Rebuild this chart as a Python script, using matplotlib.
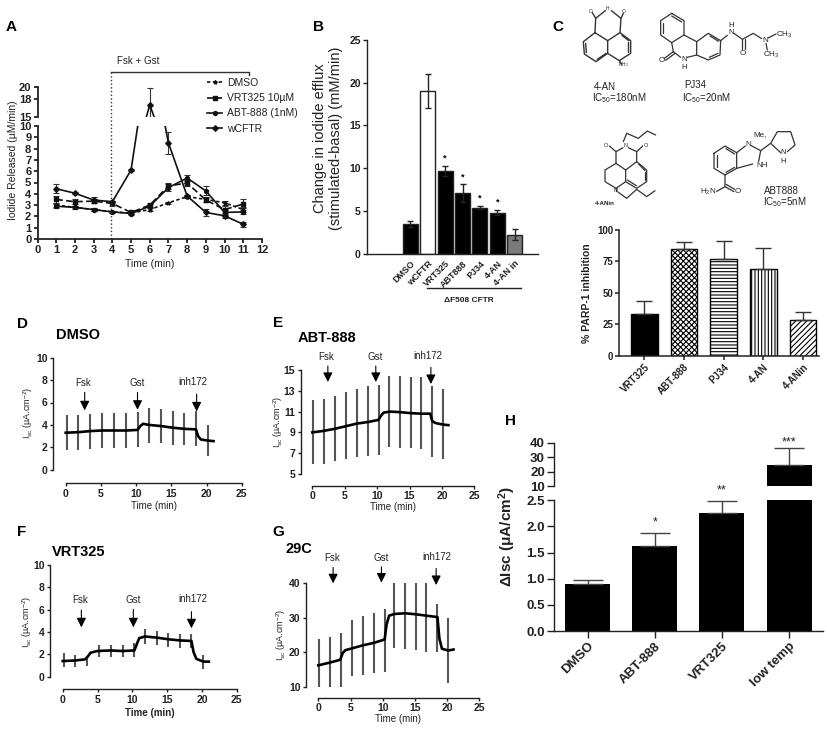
import matplotlib
matplotlib.use('Agg')
import matplotlib.pyplot as plt
from matplotlib.lines import Line2D
import numpy as np

plt.rcParams['font.family'] = ['Liberation Sans', 'DejaVu Sans']
plt.rcParams['mathtext.default'] = 'regular'
plt.rcParams['hatch.linewidth'] = 0.8

W, H = 827, 729

# panel A
minutes = [1, 2, 3, 4, 5, 6, 7, 8, 9, 10, 11]
dmso_a = [3.0, 2.8, 2.6, 2.4, 2.3, 2.6, 3.2, 3.75, 3.5, 3.2, 2.6]
vrt_a = [3.5, 3.3, 3.35, 3.15, 2.35, 3.0, 4.7, 4.95, 3.45, 2.6, 3.1]
abt_a = [2.9, 2.8, 2.6, 2.4, 2.25, 2.9, 4.55, 5.4, 4.25, 2.35, 2.4]
wt_a = [4.45, 4.05, 3.45, 3.3, 6.1, 17.0, 8.5, 3.8, 2.35, 2.05, 1.3]
dmso_a_err = [0.15, 0.1, 0.1, 0.1, 0.1, 0.1, 0.1, 0.1, 0.2, 0.15, 0.2]
vrt_a_err = [0.3, 0.2, 0.2, 0.2, 0.1, 0.15, 0.25, 0.3, 0.2, 0.3, 0.4]
abt_a_err = [0.2, 0.15, 0.1, 0.1, 0.1, 0.2, 0.3, 0.3, 0.4, 0.2, 0.2]
wt_a_err = [0.4, 0.1, 0.3, 0.1, 0.1, 2.8, 1.0, 0.1, 0.3, 0.2, 0.2]

# panel B
efflux_names = ['DMSO', 'wCFTR', 'VRT325', 'ABT888', 'PJ34', '4-AN', '4-AN in']
efflux = [3.5, 19.0, 9.7, 7.1, 5.4, 4.8, 2.2]
efflux_err = [0.35, 2.0, 0.6, 1.0, 0.2, 0.3, 0.65]
efflux_colors = ['black', 'white', 'black', 'black', 'black', 'black', '#7a7a7a']

# panel C
parp_names = ['VRT325', 'ABT-888', 'PJ34', '4-AN', '4-ANin']
parp = [33, 84.5, 77, 69, 28.5]
parp_err = [10.5, 6, 14.5, 16.5, 6.5]
parp_hatch = ['', 'xxxxxx', '-----', '|||||', '//////']
parp_face = ['black', 'white', 'white', 'white', 'white']

# panels D-G, error bars share these times
err_t = [0.15, 1.8, 3.5, 5.2, 6.9, 8.6, 10.3, 11.8, 13.5, 15.2, 16.8, 18.5, 20.2]

d_t = [0, 1.8, 3.5, 5.2, 6.9, 8.6, 10.2, 10.6, 11, 11.8, 13.5, 15.2, 16.8, 18.5, 18.8, 19.2, 20.2, 21]
d_y = [3.3, 3.35, 3.45, 3.5, 3.5, 3.5, 3.55, 3.9, 4.1, 4.0, 3.9, 3.75, 3.65, 3.6, 3.0, 2.7, 2.6, 2.55]
d_hi = [4.9, 4.85, 5.0, 5.05, 5.05, 5.05, 5.15, 5.55, 5.4, 5.2, 5.1, 5.2, 3.95]
d_lo = [1.8, 1.75, 1.85, 1.95, 1.95, 1.95, 2.0, 2.4, 2.4, 2.25, 2.2, 2.15, 1.25]

e_t = [0, 1.8, 3.5, 5.2, 6.9, 8.6, 10.2, 10.6, 11, 12, 13.5, 15.2, 16.8, 18.2, 18.5, 19, 20.2, 21]
e_y = [9.0, 9.15, 9.35, 9.6, 9.85, 10.0, 10.2, 10.6, 10.9, 11.0, 10.95, 10.85, 10.8, 10.8, 10.1, 9.9, 9.75, 9.7]
e_hi = [12.1, 12.2, 12.5, 12.85, 13.15, 13.45, 13.6, 14.4, 14.4, 14.3, 14.3, 13.45, 13.15]
e_lo = [5.93, 5.96, 6.28, 6.44, 6.63, 6.73, 6.86, 7.56, 7.53, 7.47, 7.4, 6.63, 6.44]

f_t = [0, 1.8, 3.2, 3.6, 4, 5, 6.9, 8.6, 10.3, 10.7, 11, 11.8, 13.5, 15.2, 16.8, 18.5, 18.8, 19.2, 20.2, 21]
f_y = [1.4, 1.45, 1.55, 1.8, 2.15, 2.3, 2.35, 2.3, 2.35, 3.0, 3.45, 3.6, 3.5, 3.35, 3.25, 3.2, 2.2, 1.6, 1.35, 1.35]
f_hi = [2.1, 1.95, 1.85, 2.85, 2.85, 2.85, 3.0, 4.25, 4.1, 3.95, 3.8, 3.85, 1.95]
f_lo = [0.9, 0.9, 0.95, 1.75, 1.75, 1.75, 1.8, 2.9, 2.85, 2.7, 2.55, 2.55, 0.65]

g_t = [0, 1.8, 3.4, 3.8, 4.2, 5.2, 6.9, 8.6, 10.3, 10.6, 11, 11.8, 13.5, 15.2, 16.8, 18.5, 18.8, 19.2, 20.2, 21]
g_y = [16.2, 17, 17.8, 19.8, 20.6, 21.1, 22, 22.7, 23.7, 28, 30.6, 31.1, 31.3, 31, 30.6, 30.2, 24, 21, 20.5, 20.8]
g_hi = [23.8, 24.5, 25.7, 29.4, 30.5, 31.5, 32.6, 40, 40, 40, 40, 34, 29.8]
g_lo = [10, 10, 10, 13.1, 13.4, 13.9, 14.3, 21.1, 20.9, 20.6, 20.2, 20, 11.2]

# panel H
isc_names = ['DMSO', 'ABT-888', 'VRT325', 'low temp']
isc = [0.89, 1.63, 2.25, 25]
isc_err = [0.09, 0.25, 0.24, 11.5]
isc_stars = ['', '*', '**', '***']


def add_ax(x0, ytop, x1, ybot):
    a = fig.add_axes([x0 / W, 1 - ybot / H, (x1 - x0) / W, (ybot - ytop) / H])
    a.patch.set_alpha(0)
    for s in ['top', 'right']:
        a.spines[s].set_visible(False)
    return a


def style(a, lw=1.3, size=7, length=3, weight='bold', color='#222222'):
    for s in ['left', 'bottom']:
        a.spines[s].set_linewidth(lw)
        a.spines[s].set_color(color)
    a.tick_params(width=lw, length=length, labelsize=size, pad=1.5, color=color, labelcolor=color)
    for t in a.get_xticklabels() + a.get_yticklabels():
        t.set_fontweight(weight)


fig = plt.figure(figsize=(W / 100, H / 100), dpi=100, facecolor='white')

ov = fig.add_axes([0, 0, 1, 1], zorder=20)
ov.set_xlim(0, W)
ov.set_ylim(H, 0)
ov.axis('off')


def txt(x, y, s, size=7, weight='normal', rot=0, color='#222222', ha='center'):
    ov.text(x, y, s, fontsize=size, fontweight=weight, rotation=rot, color=color, ha=ha, va='center')


for letter, lx, ly in [('A', 11, 27), ('B', 319, 27), ('C', 558, 27), ('D', 23, 324),
                       ('E', 278, 323), ('F', 22, 532), ('G', 278, 532), ('H', 510, 421)]:
    txt(lx, ly, letter, size=11, weight='bold', color='black')

# A: broken y axis
a_low = add_ax(37.5, 126, 262, 239)
a_up = add_ax(37.5, 87, 262, 117)
a_low.set_ylim(0, 10)
a_up.set_ylim(15, 20)
handles = []
series_a = [(dmso_a, dmso_a_err, (0, (2, 1.5)), '*', 'DMSO'),
            (vrt_a, vrt_a_err, (0, (4, 2)), 's', 'VRT325 10\u00b5M'),
            (abt_a, abt_a_err, '-', 'o', 'ABT-888 (1nM)'),
            (wt_a, wt_a_err, '-', 'D', 'wCFTR')]
for vals, errs, ls, mk, lab in series_a:
    for a in (a_low, a_up):
        a.errorbar(minutes, vals, yerr=errs, color='#111111', ls=ls, lw=1.2, marker=mk, ms=2.8,
                   elinewidth=0.8, ecolor='#333333', capsize=2.5, capthick=0.8)
    handles.append(Line2D([], [], color='#111111', ls=ls, lw=1.2, marker=mk, ms=2.8, label=lab))
for a in (a_low, a_up):
    a.set_xlim(0, 12)
a_low.set_xticks(range(13))
a_low.set_yticks(range(11))
a_up.set_yticks([15, 18, 20])
a_up.set_xticks([])
a_up.spines['bottom'].set_visible(False)
style(a_low, size=8)
style(a_up, size=8)
a_low.legend(handles=handles, loc='upper left', bbox_to_anchor=(207 / W, 1 - 78 / H),
             bbox_transform=fig.transFigure, frameon=False, fontsize=7.5, labelspacing=0.5,
             handlelength=1.45, handletextpad=0.5, borderpad=0, borderaxespad=0, labelcolor='#222222')
ov.plot([110.7, 110.7], [72, 239], color='#333333', lw=1, ls=':')
ov.plot([110.7, 249, 249], [72, 72, 75], color='#333333', lw=1)
txt(138, 61, 'Fsk + Gst', size=7)
txt(150, 264, 'Time (min)', size=7.5)
txt(13, 160, 'Iodide Released (\u00b5M/min)', size=7.5, rot=90)

# B
b = add_ax(367, 40, 538, 253.7)
pos_b = np.arange(len(efflux))
b.bar(pos_b, efflux, width=0.86, color=efflux_colors, edgecolor='#222222', lw=1, yerr=efflux_err,
      error_kw=dict(ecolor='#222222', elinewidth=1, capsize=2.5, capthick=1))
b.set_xlim(-2.48, 7.33)
b.set_ylim(0, 25)
b.set_yticks(range(0, 26, 5))
b.set_xticks(pos_b)
b.set_xticklabels(efflux_names, rotation=45, ha='right', rotation_mode='anchor')
style(b, lw=1, size=7.5)
b.tick_params(axis='x', length=0, labelsize=6.5, pad=4)
for i in range(2, 6):
    b.text(pos_b[i], efflux[i] + efflux_err[i] + 0.9, '*', ha='center', va='center', fontsize=6.5, fontweight='bold')
ov.plot([426.7, 521], [288, 288], color='#222222', lw=1)
txt(469, 300, '\u0394F508 CFTR', size=6, weight='bold')
txt(328, 138, 'Change in iodide efflux\n(stimulated-basal) (mM/min)', size=10.5, rot=90)

# C: structures
def chem(polys, lw=0.9, color='#333333'):
    for p in polys:
        xs = [540 + q[0] / 3 for q in p]
        ys = [q[1] / 3 for q in p]
        ov.plot(xs, ys, color=color, lw=lw, solid_capstyle='round')


chem([[(165, 98), (130, 125), (133, 162), (168, 185), (203, 160), (203, 122), (165, 98)],
      [(203, 122), (240, 98), (272, 122), (272, 160), (238, 182), (203, 160)],
      [(165, 98), (167, 55), (196, 32)], [(214, 32), (243, 55), (240, 98)],
      [(167, 55), (157, 38)], [(243, 55), (250, 40)], [(238, 182), (244, 192)],
      [(137, 130), (139, 158)], [(172, 178), (198, 160)], [(246, 106), (266, 122)], [(265, 126), (265, 156)]], lw=1)
chem([[(395, 40), (432, 62), (432, 105), (395, 128), (362, 105), (362, 62), (395, 40)],
      [(395, 128), (400, 155), (422, 172)], [(442, 172), (470, 165), (470, 125), (432, 105)],
      [(470, 125), (505, 100), (542, 122), (540, 165), (505, 180), (470, 165)],
      [(400, 155), (372, 176)], [(405, 160), (377, 181)], [(395, 48), (425, 66)], [(369, 68), (369, 100)],
      [(542, 122), (562, 106)], [(582, 100), (607, 118), (640, 100), (665, 116)],
      [(607, 118), (607, 148)], [(615, 118), (615, 148)], [(684, 114), (708, 102)], [(678, 130), (682, 150)],
      [(510, 108), (536, 124)], [(534, 160), (508, 172)]])
chem([[(250, 425), (260, 400), (295, 415), (322, 393), (347, 405)],
      [(249, 443), (228, 455), (228, 490), (195, 510), (195, 545), (228, 565), (257, 545), (257, 510), (228, 490)],
      [(265, 443), (290, 455), (290, 485), (320, 510), (320, 545), (290, 565), (257, 545)],
      [(257, 510), (290, 485)], [(228, 455), (208, 438)], [(290, 455), (308, 438)],
      [(228, 565), (228, 572)], [(234, 576), (260, 595), (290, 568), (320, 590), (345, 572)],
      [(296, 492), (315, 512)], [(314, 516), (314, 540)], [(289, 557), (262, 540)]])
chem([[(522, 460), (555, 438), (590, 458), (590, 505), (555, 525), (522, 505), (522, 460)],
      [(590, 458), (616, 438)], [(634, 437), (662, 452), (656, 484)], [(590, 505), (638, 492)],
      [(662, 452), (692, 430), (712, 395), (752, 395), (765, 435), (742, 455)], [(692, 430), (722, 458)],
      [(555, 525), (555, 560), (530, 574)], [(555, 560), (582, 575)], [(558, 553), (584, 568)],
      [(530, 466), (530, 500)], [(558, 446), (584, 462)], [(558, 517), (584, 502)]])
for zx, zy, s, fs in [(250, 195, 'NH$_2$', 3.5), (203, 24, 'H', 3.5), (152, 33, 'O', 3.5), (252, 34, 'O', 3.5),
                      (432, 178, 'N', 5.5), (432, 201, 'H', 5.5), (365, 180, 'O', 5.8), (607, 160, 'O', 5.8),
                      (572, 98, 'N', 5.5), (572, 75, 'H', 5.5), (675, 120, 'N', 5.8), (733, 105, 'CH$_3$', 5.8),
                      (695, 165, 'CH$_3$', 5.8), (257, 436, 'N', 4), (199, 435, 'O', 4), (317, 435, 'O', 4),
                      (228, 571, 'N', 4), (625, 432, 'N', 5.8), (665, 495, 'NH', 5.8), (660, 405, 'Me,', 5.8),
                      (730, 458, 'N', 5.5), (730, 483, 'H', 5.5), (505, 575, 'H$_2$N', 5.8), (592, 575, 'O', 5.8)]:
    txt(540 + zx / 3, zy / 3, s, size=fs)
txt(540 + 195 / 3, 260 / 3, '4-AN', size=7)
txt(540 + 238 / 3, 295 / 3, 'IC$_{50}$=180nM', size=7)
txt(540 + 465 / 3, 255 / 3, 'PJ34', size=7)
txt(540 + 500 / 3, 295 / 3, 'IC$_{50}$=20nM', size=7)
txt(540 + 195 / 3, 610 / 3, '4-ANin', size=4.5, weight='bold')
txt(540 + 725 / 3, 572 / 3, 'ABT888', size=7)
txt(540 + 735 / 3, 607 / 3, 'IC$_{50}$=5nM', size=7)

# C: bar chart
c_ax = add_ax(619.3, 230, 819, 355.7)
pos_c = np.arange(len(parp))
c_ax.bar(pos_c, parp, width=0.67, color=parp_face, hatch=parp_hatch, edgecolor='black', lw=1,
         yerr=[np.zeros(len(parp)), parp_err], error_kw=dict(ecolor='#333333', elinewidth=1, capsize=5.5, capthick=1))
c_ax.set_xlim(-0.63, 4.4)
c_ax.set_ylim(0, 100)
c_ax.set_yticks([0, 25, 50, 75, 100])
c_ax.set_xticks(pos_c)
c_ax.set_xticklabels(parp_names, rotation=45, ha='right', rotation_mode='anchor')
style(c_ax, lw=1.1, size=7)
txt(587, 293, '% PARP-1 inhibition', size=7.5, weight='bold', rot=90)


# D-G traces
def trace(box, lims, t, y, hi, lo, ticks, title, title_xy, arrows, xlab, ylab, xlab_bold=False):
    spine_x, x0_px, x25_px, base_y, lo_px, hi_px = box
    lo_v, hi_v = lims
    ppx = (x25_px - x0_px) / 25
    ppy = (lo_px - hi_px) / (hi_v - lo_v)
    a = add_ax(spine_x, hi_px, x25_px, base_y)
    a.set_xlim((spine_x - x0_px) / ppx, 25)
    a.set_ylim(lo_v - (base_y - lo_px) / ppy, hi_v)
    a.vlines(err_t, lo, hi, color='#555555', lw=1.5)
    a.plot(t, y, color='black', lw=1.9)
    a.spines['left'].set_bounds(lo_v, hi_v)
    a.spines['bottom'].set_bounds(0, 25)
    a.set_xticks(range(0, 26, 5))
    a.set_yticks(ticks)
    style(a, lw=1, size=7.5, length=2.5)
    for name, ax_x, top, tip, tx, ty in arrows:
        a.annotate('', xy=(ax_x, tip), xytext=(ax_x, top), annotation_clip=False,
                   arrowprops=dict(arrowstyle='-|>', color='black', lw=0.8, mutation_scale=14, shrinkA=0, shrinkB=0))
        txt(tx, ty, name, size=7)
    txt(title_xy[0], title_xy[1], title, size=10.5, weight='bold', ha='left', color='black')
    txt(xlab[0], xlab[1], 'Time (min)', size=7, weight='bold' if xlab_bold else 'normal')
    txt(ylab[0], ylab[1], 'I$_{sc}$ (\u00b5A.cm$^{-2}$)', size=6.5, rot=90)


trace((53.3, 65.7, 241.7, 483.3, 469.7, 357.7), (0, 10), d_t, d_y, d_hi, d_lo, range(0, 11, 2), 'DMSO', (56, 335),
      [('Fsk', 2.7, 6.9, 5.3, 83, 383), ('Gst', 10.2, 6.9, 5.35, 137, 383), ('inh172', 18.6, 6.75, 5.2, 193, 382)],
      (154, 506), (28, 413))
trace((300.7, 312.3, 474.3, 485.7, 474, 370), (5, 15), e_t, e_y, e_hi, e_lo, range(5, 16, 2), 'ABT-888', (298, 338),
      [('Fsk', 2.4, 15.38, 13.85, 326, 357), ('Gst', 9.8, 15.38, 13.85, 375, 357), ('inh172', 18.3, 15.25, 13.65, 428, 356)],
      (393, 507), (278, 422))
trace((50, 62.7, 236.7, 689, 676.7, 565), (0, 10), f_t, f_y, f_hi, f_lo, range(0, 11, 2), 'VRT325', (52, 552),
      [('Fsk', 2.68, 5.97, 4.42, 80, 600), ('Gst', 10.15, 6.03, 4.42, 133, 600), ('inh172', 18.5, 5.82, 4.33, 193, 599)],
      (150, 713), (27, 622), xlab_bold=True)
trace((306, 318.3, 479.3, 697.7, 686.7, 583.3), (10, 40), g_t, g_y, g_hi, g_lo, range(10, 41, 10), '29C', (285, 549),
      [('Fsk', 2.3, 44.6, 40, 332, 558), ('Gst', 9.8, 44.8, 40.2, 381, 558), ('inh172', 18.3, 44.3, 39.5, 437, 557)],
      (398, 719), (281, 635))

# H: broken y axis
h_low = add_ax(554, 500.3, 822.7, 631)
h_up = add_ax(554, 442.7, 822.7, 486.3)
pos_h = np.arange(len(isc))
for a in (h_low, h_up):
    a.bar(pos_h, isc, width=0.67, color='black', yerr=[np.zeros(len(isc)), isc_err],
          error_kw=dict(ecolor='#444444', elinewidth=1, capsize=11, capthick=1))
    a.set_xlim(-0.5, 3.5)
h_low.set_ylim(0, 2.5)
h_up.set_ylim(10, 40)
h_low.set_yticks([0, 0.5, 1, 1.5, 2, 2.5])
h_low.set_yticklabels(['0.0', '0.5', '1.0', '1.5', '2.0', '2.5'])
h_up.set_yticks([10, 20, 30, 40])
h_up.set_xticks([])
h_up.spines['bottom'].set_visible(False)
h_low.set_xticks(pos_h)
h_low.set_xticklabels(isc_names, rotation=45, ha='right', rotation_mode='anchor')
style(h_low, lw=1, size=9.5, length=5)
style(h_up, lw=1, size=9.5, length=5)
for i, s in enumerate(isc_stars[:3]):
    h_low.text(pos_h[i], isc[i] + isc_err[i] + 0.2, s, ha='center', va='center', fontsize=9, color='#222222',
               clip_on=False)
h_up.text(pos_h[3], isc[3] + isc_err[3] + 3.5, isc_stars[3], ha='center', va='center', fontsize=9, color='#222222',
          clip_on=False)
txt(507, 537, '$\\Delta$Isc ($\\mu$A/cm$^2$)', size=11, weight='bold', rot=90)

fig.savefig('out.png', dpi=100)
